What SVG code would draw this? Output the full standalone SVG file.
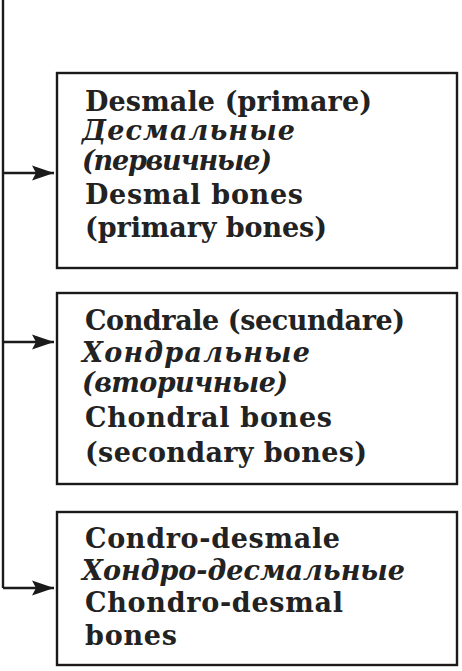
<svg xmlns="http://www.w3.org/2000/svg" width="462" height="671" viewBox="0 0 462 671">
<style>
.box{fill:#fff;stroke:#1a1a1a;stroke-width:2.4}
.conn{fill:none;stroke:#1a1a1a;stroke-width:2.4}
.b{font-family:"DejaVu Serif","Liberation Serif",serif;font-weight:bold;font-size:27px;fill:#222}
.i{font-family:"DejaVu Serif","Liberation Serif",serif;font-style:italic;font-weight:bold;font-size:27px;fill:#222}
</style>
<defs>
<marker id="ah" markerWidth="22" markerHeight="16" refX="22" refY="8" orient="auto" markerUnits="userSpaceOnUse">
<path d="M0,0.5 L22,8 L0,15.5 L4,8 z" fill="#1a1a1a"/>
</marker>
</defs>
<rect width="462" height="671" fill="#fff"/>
<g id="connectors">
<path class="conn" d="M3,0 V588"/>
<path class="conn" d="M3,173 H54" marker-end="url(#ah)"/>
<path class="conn" d="M3,342 H54" marker-end="url(#ah)"/>
<path class="conn" d="M3,588 H54" marker-end="url(#ah)"/>
</g>
<g id="node1">
<rect class="box" x="57" y="73" width="400" height="195"/>
<text class="b" x="85" y="111" textLength="287">Desmale (primare)</text>
<text class="i" x="82" y="140" textLength="213">Десмальные</text>
<text class="i" x="82" y="170" textLength="190">(первичные)</text>
<text class="b" x="85" y="204" textLength="218">Desmal bones</text>
<text class="b" x="85" y="237" textLength="242">(primary bones)</text>
</g>
<g id="node2">
<rect class="box" x="57" y="293" width="400" height="191"/>
<text class="b" x="85" y="330" textLength="320">Condrale (secundare)</text>
<text class="i" x="82" y="362" textLength="228">Хондральные</text>
<text class="i" x="82" y="392" textLength="206">(вторичные)</text>
<text class="b" x="85" y="427" textLength="247">Chondral bones</text>
<text class="b" x="85" y="462" textLength="282">(secondary bones)</text>
</g>
<g id="node3">
<rect class="box" x="57" y="512" width="400" height="153"/>
<text class="b" x="85" y="548" textLength="255">Condro-desmale</text>
<text class="i" x="82" y="580" textLength="323">Хондро-десмальные</text>
<text class="b" x="85" y="612" textLength="258">Chondro-desmal</text>
<text class="b" x="85" y="645" textLength="92">bones</text>
</g>
</svg>
